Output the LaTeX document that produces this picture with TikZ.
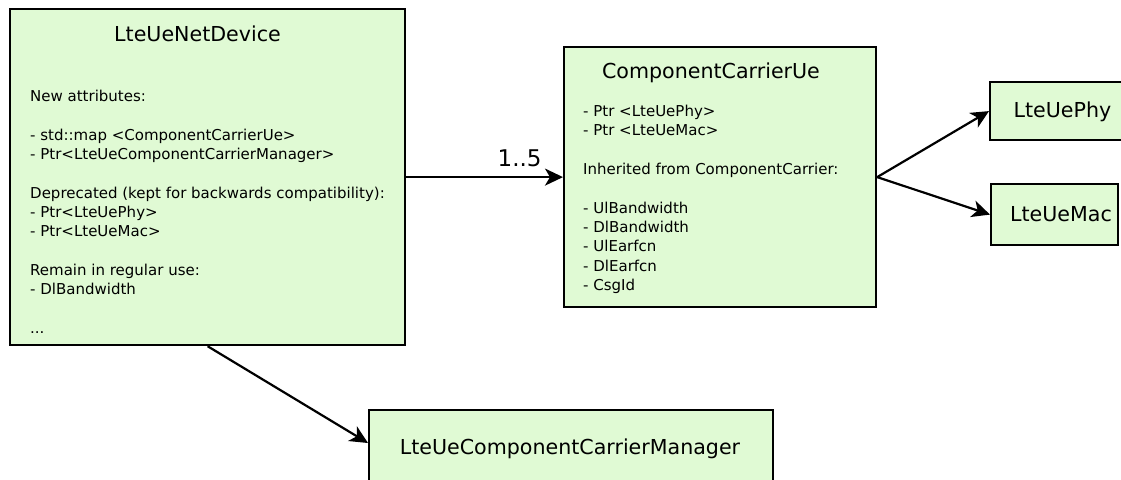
\documentclass[tikz,border=0pt]{standalone}
\usepackage{fontspec}
\setmainfont{DejaVu Sans}
\usetikzlibrary{arrows.meta}
\definecolor{boxfill}{RGB}{224,250,212}
\tikzset{
  umlbox/.style={draw=black, fill=boxfill, line width=2.2pt, rectangle, inner sep=0pt, anchor=north west},
  title/.style={font=\fontsize{20.6}{24}\selectfont, inner sep=0pt, anchor=base},
  body/.style={font=\fontsize{15}{19.3}\selectfont, align=left, inner sep=0pt, anchor=north west},
  conn/.style={line width=2.2pt, -{Stealth[length=18pt,width=17pt,inset=5pt]}},
}
\begin{document}
\begin{tikzpicture}[x=1pt,y=-1pt]
\useasboundingbox (0,0) rectangle (1121,479);
\clip (0,0) rectangle (1121,479);
% boxes
\node[umlbox, minimum width=395pt, minimum height=336pt] (dev) at (9,8) {};
\node[umlbox, minimum width=312pt, minimum height=260pt] (ccu) at (563,46) {};
\node[umlbox, minimum width=160pt, minimum height=58pt] (phy) at (989,81) {};
\node[umlbox, minimum width=127pt, minimum height=61pt] (mac) at (990,183) {};
\node[umlbox, minimum width=404pt, minimum height=100pt] (mgr) at (368,409) {};
\coordinate (mgrin) at (368,443);
% titles
\node[title] (devt) at (197.5,41.7) {LteUeNetDevice};
\node[title] (ccut) at (711,78.7) {ComponentCarrierUe};
\node[title] (phyt) at (1062.5,117.7) {LteUePhy};
\node[title] (mact) at (1061,221.7) {LteUeMac};
\node[title] (mgrt) at (570,454) {LteUeComponentCarrierManager};
% bodies
\node[body] (devb) at (30,90) {New attributes:\\[19.3pt]
- std::map <ComponentCarrierUe>\\
- Ptr<LteUeComponentCarrierManager>\\[19.3pt]
Deprecated (kept for backwards compatibility):\\
- Ptr<LteUePhy>\\
- Ptr<LteUeMac>\\[19.3pt]
Remain in regular use:\\
- DlBandwidth\\[19.3pt]
...};
\node[body] (ccub) at (583,105) {- Ptr <LteUePhy>\\
- Ptr <LteUeMac>\\[19.3pt]
Inherited from ComponentCarrier:\\[19.3pt]
- UlBandwidth\\
- DlBandwidth\\
- UlEarfcn\\
- DlEarfcn\\
- CsgId};
% connectors
\draw[conn] (dev.east) -- node[above=9pt, font=\fontsize{23}{26}\selectfont, inner sep=0pt, xshift=35pt] (lbl) {1..5} (ccu.west);
\draw[conn] (ccu.east) -- (phy.west);
\draw[conn] (ccu.east) -- (mac.west);
\draw[conn] (dev.south) -- (mgrin);
\end{tikzpicture}
\end{document}
